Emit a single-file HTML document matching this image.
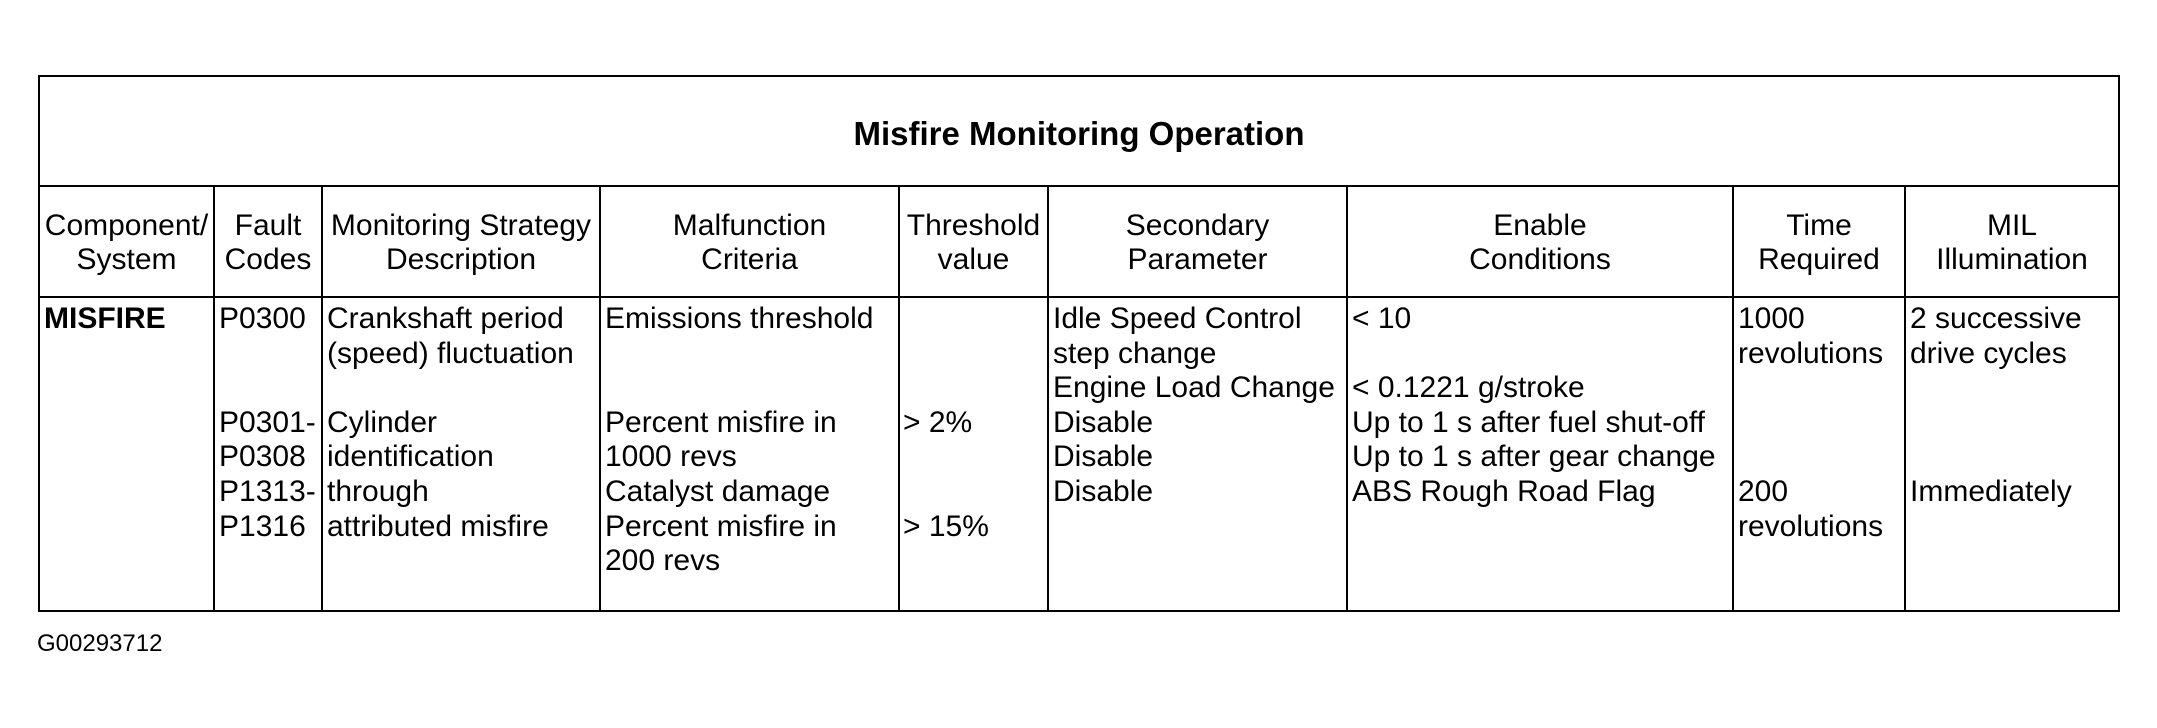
<!DOCTYPE html>
<html>
<head>
<meta charset="utf-8">
<style>
  html, body { margin:0; padding:0; background:#fff; }
  body { width:2157px; height:728px; position:relative; overflow:hidden;
         font-family:"Liberation Sans", Arial, sans-serif; color:#000; }
  .t { position:absolute; font-size:30px; line-height:34.6px; white-space:pre; }
  .c { text-align:center; }
  .b { font-weight:bold; }
  svg { position:absolute; left:0; top:0; }
</style>
</head>
<body>
<svg width="2157" height="728" xmlns="http://www.w3.org/2000/svg">
  <g fill="#000">
    <rect x="38" y="75" width="2082" height="2"/>
    <rect x="38" y="185" width="2082" height="2"/>
    <rect x="38" y="296" width="2082" height="2"/>
    <rect x="38" y="610" width="2082" height="2"/>
    <rect x="38" y="75" width="2" height="537"/>
    <rect x="2118" y="75" width="2" height="537"/>
    <rect x="213" y="185" width="2" height="427"/>
    <rect x="321" y="185" width="2" height="427"/>
    <rect x="599" y="185" width="2" height="427"/>
    <rect x="898" y="185" width="2" height="427"/>
    <rect x="1047" y="185" width="2" height="427"/>
    <rect x="1346" y="185" width="2" height="427"/>
    <rect x="1732" y="185" width="2" height="427"/>
    <rect x="1904" y="185" width="2" height="427"/>
  </g>
</svg>

<div class="t c b" style="left:39px;width:2080px;top:113.5px;font-size:33px;line-height:40px;">Misfire Monitoring Operation</div>

<div class="t c" style="left:39px;width:175px;top:208.8px;">Component/
System</div>
<div class="t c" style="left:214px;width:108px;top:208.8px;">Fault
Codes</div>
<div class="t c" style="left:322px;width:278px;top:208.8px;">Monitoring Strategy
Description</div>
<div class="t c" style="left:600px;width:299px;top:208.8px;">Malfunction
Criteria</div>
<div class="t c" style="left:899px;width:149px;top:208.8px;">Threshold
value</div>
<div class="t c" style="left:1048px;width:299px;top:208.8px;">Secondary
Parameter</div>
<div class="t c" style="left:1347px;width:386px;top:208.8px;">Enable
Conditions</div>
<div class="t c" style="left:1733px;width:172px;top:208.8px;">Time
Required</div>
<div class="t c" style="left:1905px;width:214px;top:208.8px;">MIL
Illumination</div>

<div class="t b" style="left:44px;top:302px;">MISFIRE</div>

<div class="t" style="left:219px;top:302px;">P0300


P0301-
P0308
P1313-
P1316</div>

<div class="t" style="left:327px;top:302px;">Crankshaft period
(speed) fluctuation

Cylinder
identification
through
attributed misfire</div>

<div class="t" style="left:605px;top:302px;">Emissions threshold


Percent misfire in
1000 revs
Catalyst damage
Percent misfire in
200 revs</div>

<div class="t" style="left:903px;top:302px;">


&gt; 2%


&gt; 15%</div>

<div class="t" style="left:1053px;top:302px;">Idle Speed Control
step change
Engine Load Change
Disable
Disable
Disable</div>

<div class="t" style="left:1352px;top:302px;">&lt; 10

&lt; 0.1221 g/stroke
Up to 1 s after fuel shut-off
Up to 1 s after gear change
ABS Rough Road Flag</div>

<div class="t" style="left:1738px;top:302px;">1000
revolutions



200
revolutions</div>

<div class="t" style="left:1910px;top:302px;">2 successive
drive cycles



Immediately</div>

<div class="t" style="left:37px;top:629.4px;font-size:24px;line-height:30px;">G00293712</div>
</body>
</html>
